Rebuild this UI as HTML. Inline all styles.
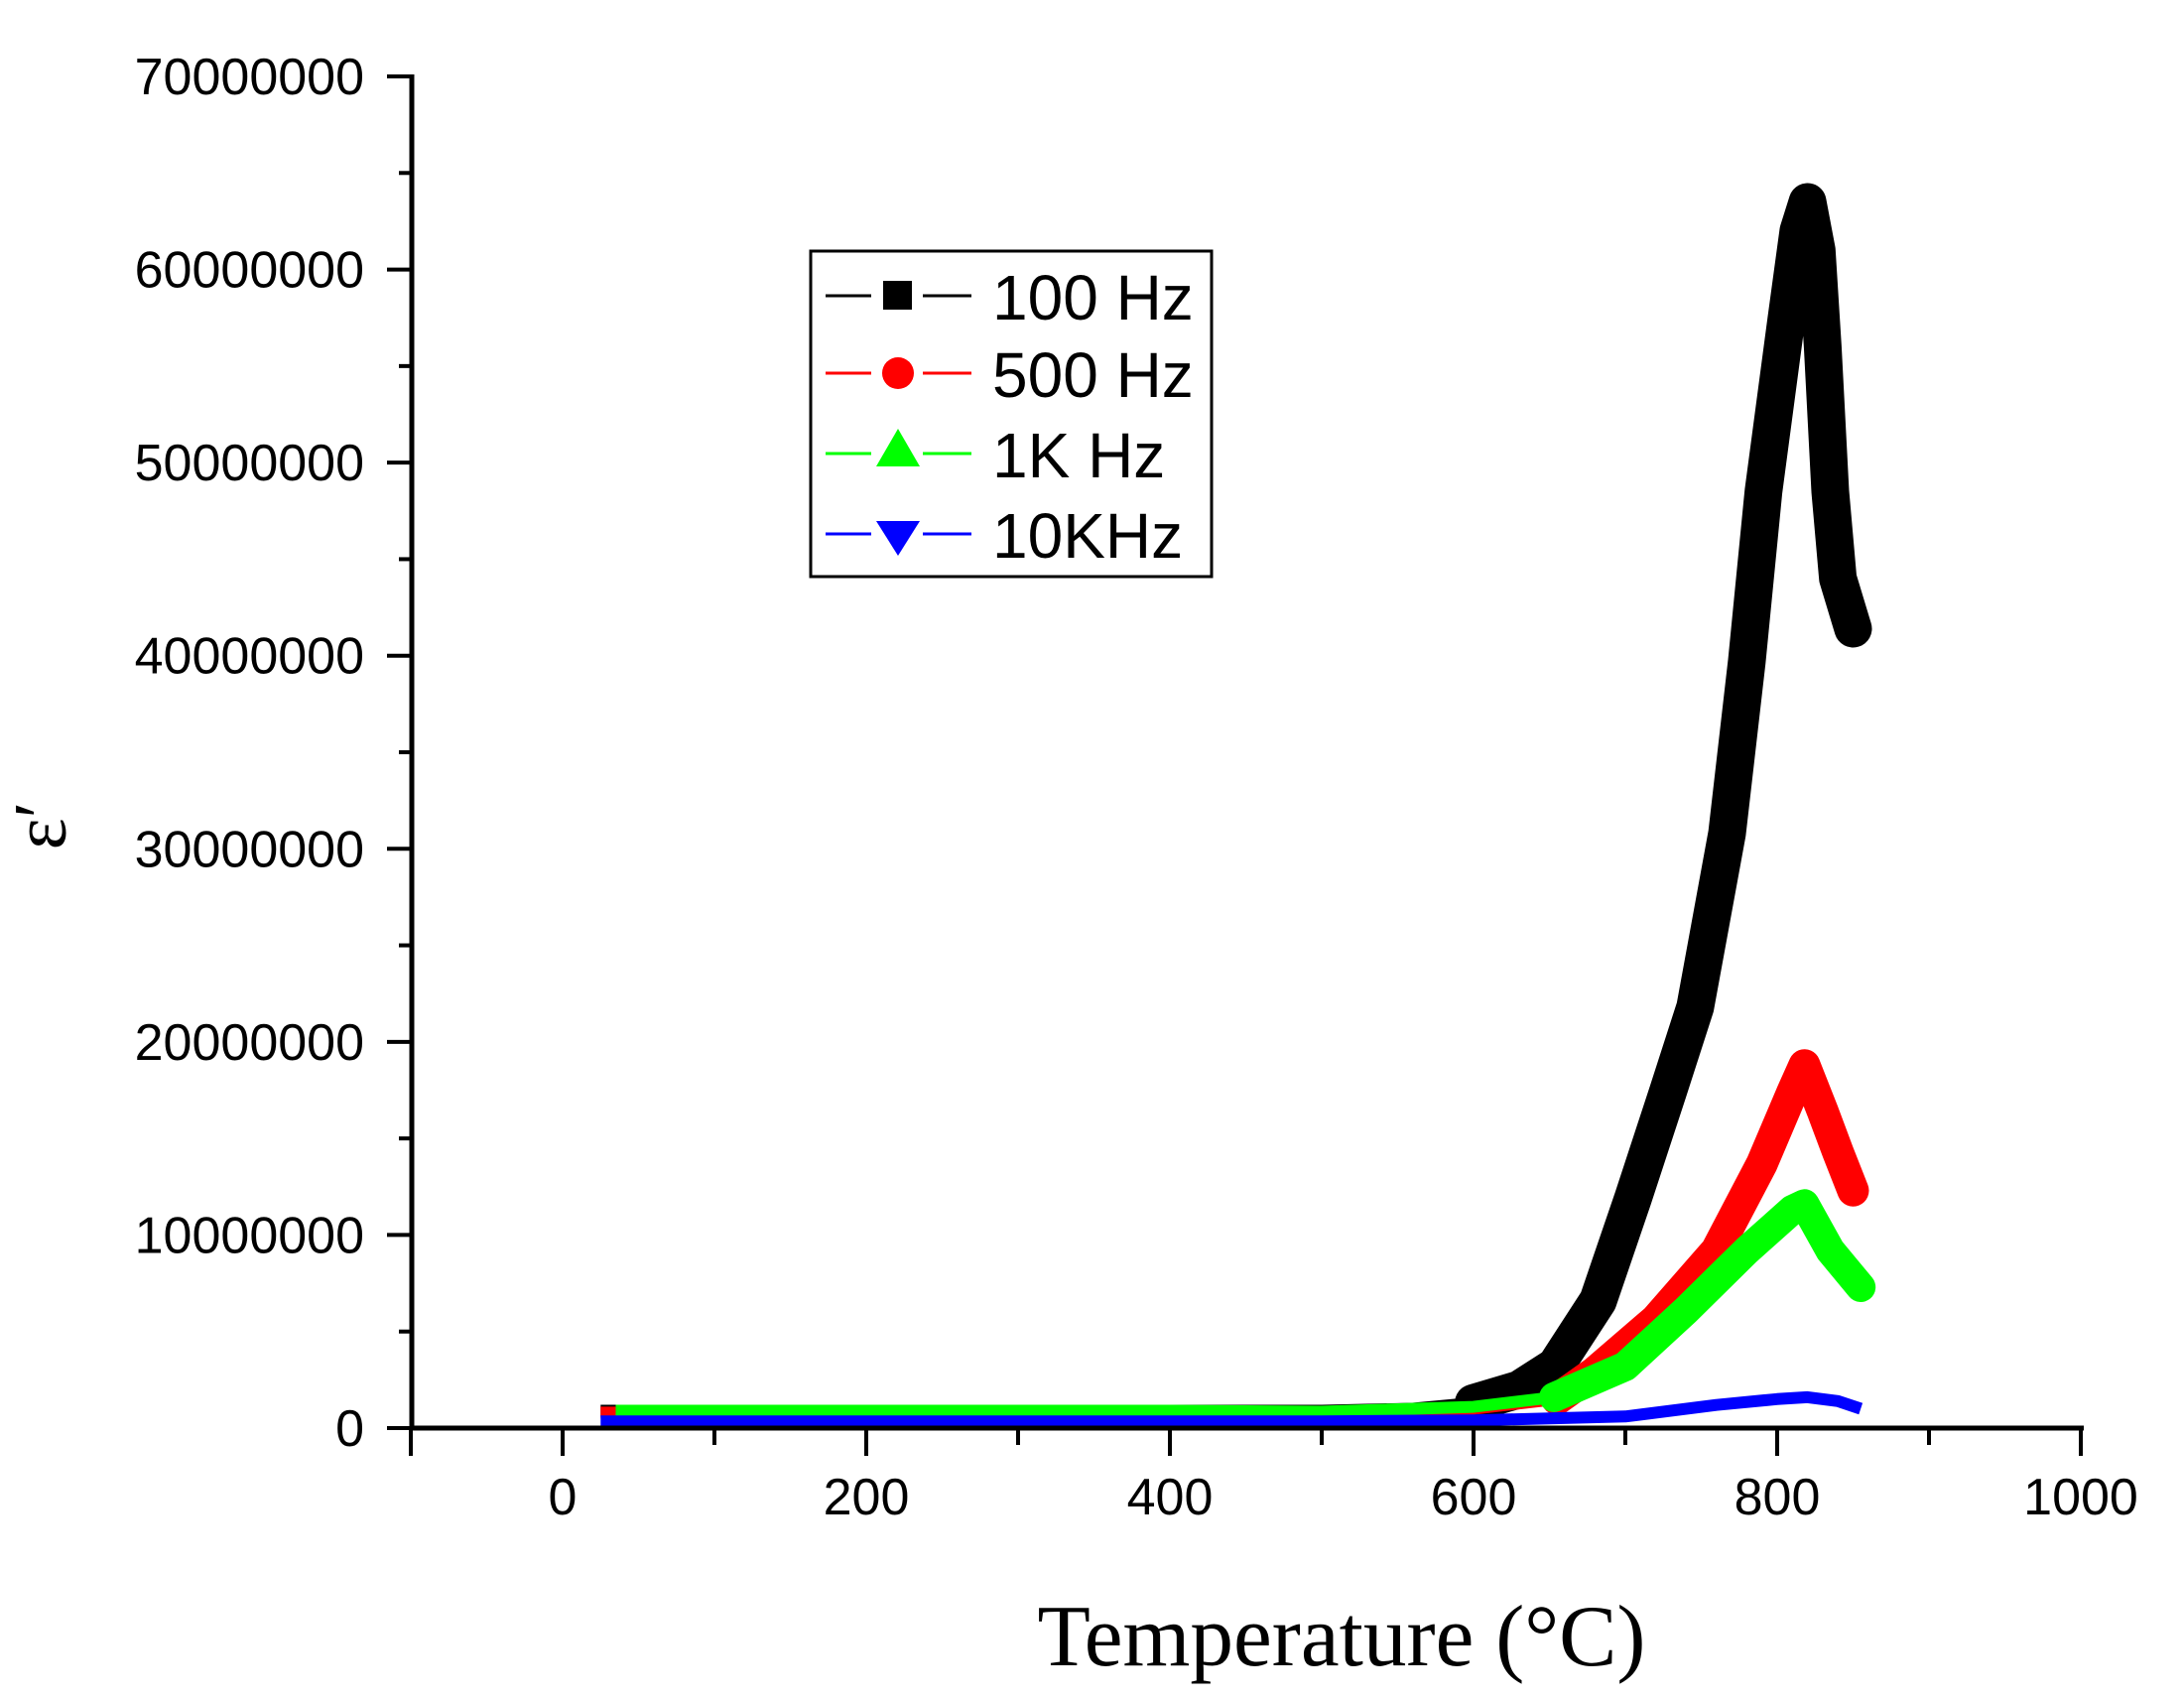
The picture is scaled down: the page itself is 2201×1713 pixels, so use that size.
<!DOCTYPE html>
<html><head><meta charset="utf-8"><style>
html,body{margin:0;padding:0;background:#fff;}
svg{display:block;}
</style></head><body>
<svg id="chart" width="2201" height="1713" viewBox="0 0 2201 1713" xmlns="http://www.w3.org/2000/svg">
<g id="plot"></g>
<g id="axes"></g>
<text x="1352" y="1678" text-anchor="middle" font-family="Liberation Serif, serif" font-size="88" textLength="613" lengthAdjust="spacingAndGlyphs">Temperature (°C)</text>
<text transform="translate(66,832) rotate(-90)" text-anchor="middle" font-family="Liberation Serif, serif" font-size="76">ε′</text>
<g id="legend"></g>
</svg>
<script>
const xTicks = [0, 200, 400, 600, 800, 1000];
const yTicks = [0, 10000000, 20000000, 30000000, 40000000, 50000000, 60000000, 70000000];
const seriesNames = ["100 Hz", "500 Hz", "1K Hz", "10KHz"];
const tBlack = [25, 100, 200, 300, 400, 500, 560, 600, 630, 654, 682, 705, 728, 746, 767, 780, 791, 806, 814, 820, 826, 830, 835, 840, 850];
const vBlack = [0.9, 0.9, 0.9, 0.9, 0.9, 0.9, 1.0, 1.3, 2.0, 3.2, 6.6, 11.9, 17.4, 21.8, 30.8, 39.7, 48.5, 57.4, 62.0, 63.5, 61.0, 56.0, 48.5, 44.0, 41.4];
const tRed = [25, 100, 200, 300, 400, 500, 600, 655, 680, 720, 760, 790, 810, 818, 830, 840, 850];
const vRed = [0.8, 0.8, 0.8, 0.8, 0.8, 0.8, 1.0, 1.5, 2.9, 5.6, 9.2, 13.7, 17.4, 18.8, 16.4, 14.3, 12.3];
const tGreen = [35, 100, 200, 300, 400, 500, 600, 653, 700, 740, 780, 810, 818, 835, 855];
const vGreen = [0.9, 0.9, 0.9, 0.9, 0.9, 0.85, 1.1, 1.6, 3.2, 6.1, 9.2, 11.3, 11.6, 9.2, 7.3];
const tBlue = [25, 100, 200, 300, 400, 500, 600, 700, 760, 800, 820, 840, 855];
const vBlue = [0.35, 0.35, 0.35, 0.35, 0.35, 0.35, 0.4, 0.6, 1.2, 1.5, 1.6, 1.4, 1.0];

const NS = "http://www.w3.org/2000/svg";
const X0 = 567, XS = 1.53, Y0 = 1439, YS = 1362 / 70000000;
function xs(t){ return X0 + t * XS; }
function ys(v){ return Y0 - v * YS; }
function mk(tag, attrs, parent){ const e = document.createElementNS(NS, tag); for (const k in attrs) e.setAttribute(k, attrs[k]); parent.appendChild(e); return e; }

const plot = document.getElementById('plot');
const seriesDefs = [
  [tBlack, vBlack, '#000000', 38, 590, 'series-100hz'],
  [tRed, vRed, '#ff0000', 32, 640, 'series-500hz'],
  [tGreen, vGreen, '#00ff00', 30, 640, 'series-1khz'],
  [tBlue, vBlue, '#0000ff', 14, 2000, 'series-10khz']
];
seriesDefs.forEach(([ts, vs, col, w, thickFrom, name]) => {
  const g = mk('g', {}, plot);
  
  
  const pts = ts.map((t, i) => xs(t).toFixed(1) + ',' + ys(vs[i] * 1e6).toFixed(1)).join(' ');
  mk('polyline', {points: pts, fill: 'none', stroke: col, 'stroke-width': 12, 'stroke-linejoin': 'round'}, g);
  const thick = [];
  ts.forEach((t, i) => { if (t >= thickFrom) thick.push(xs(t).toFixed(1) + ',' + ys(vs[i] * 1e6).toFixed(1)); });
  if (thick.length > 1) mk('polyline', {points: thick.join(' '), fill: 'none', stroke: col, 'stroke-width': w, 'stroke-linejoin': 'round', 'stroke-linecap': 'round'}, g);
});

const axes = document.getElementById('axes');
const xl = mk('line', {x1: 415, y1: Y0, x2: 2100, y2: Y0, stroke: '#000', 'stroke-width': 5}, axes);


const yl = mk('line', {x1: 415, y1: 75, x2: 415, y2: Y0 + 2, stroke: '#000', 'stroke-width': 5}, axes);


for (let t = -100; t <= 1000; t += 100) {
  const major = t % 200 === 0;
  const tk = mk('line', {x1: xs(t), y1: Y0, x2: xs(t), y2: Y0 + (t === -100 ? 28 : major ? 28 : 17), stroke: '#000', 'stroke-width': 4}, axes);
  
  
}
xTicks.forEach(t => {
  const tx = mk('text', {x: xs(t), y: 1526, 'text-anchor': 'middle', 'font-family': 'Liberation Sans, sans-serif', 'font-size': 52}, axes);
  tx.textContent = t;
  
  
});
for (let v = 0; v <= 70000000; v += 5000000) {
  const major = v % 10000000 === 0;
  const tk = mk('line', {x1: major ? 390 : 402, y1: ys(v), x2: 415, y2: ys(v), stroke: '#000', 'stroke-width': 4}, axes);
  
  
}
yTicks.forEach(v => {
  const tx = mk('text', {x: 367, y: ys(v) + 18, 'text-anchor': 'end', 'font-family': 'Liberation Sans, sans-serif', 'font-size': 52}, axes);
  tx.textContent = v;
  
  
});

const lg = document.getElementById('legend');
const box = mk('rect', {x: 817, y: 253, width: 404, height: 328, fill: '#fff', stroke: '#000', 'stroke-width': 3}, lg);


const rowY = [298, 376, 457, 538];
const cols = ['#000000', '#ff0000', '#00ff00', '#0000ff'];
seriesNames.forEach((n, i) => {
  const y = rowY[i], c = cols[i];
  const g = mk('g', {}, lg);
  
  
  mk('line', {x1: 832, y1: y, x2: 878, y2: y, stroke: c, 'stroke-width': 3}, g);
  mk('line', {x1: 930, y1: y, x2: 979, y2: y, stroke: c, 'stroke-width': 3}, g);
  if (i === 0) mk('rect', {x: 890, y: y - 15, width: 29, height: 29, fill: c}, g);
  else if (i === 1) mk('circle', {cx: 905, cy: y, r: 16, fill: c}, g);
  else if (i === 2) mk('polygon', {points: `905,${y-25} 927,${y+13} 883,${y+13}`, fill: c}, g);
  else mk('polygon', {points: `883,${y-13} 927,${y-13} 905,${y+22}`, fill: c}, g);
  const tx = mk('text', {x: 1000, y: y + 24, 'font-family': 'Liberation Sans, sans-serif', 'font-size': 64}, g);
  tx.textContent = n;
});
</script>
</body></html>
